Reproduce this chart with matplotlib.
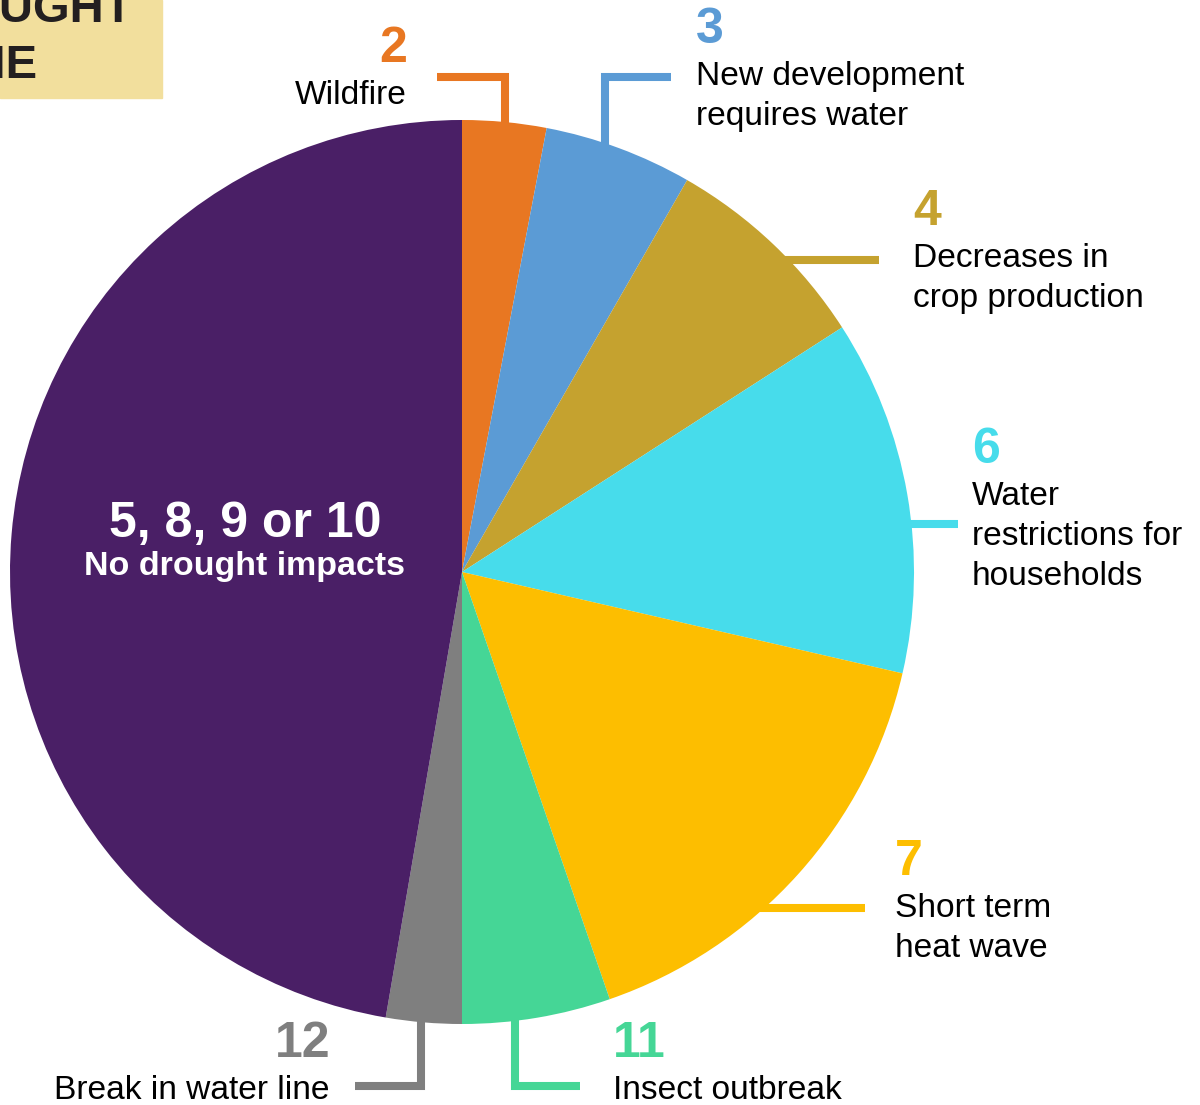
import matplotlib.pyplot as plt
from matplotlib.patches import Rectangle

plt.rcParams['font.family'] = ['Liberation Sans', 'DejaVu Sans']

# shares of answers, clockwise from 12 o'clock
impacts = ['Wildfire', 'New development\nrequires water', 'Decreases in\ncrop production',
           'Water\nrestrictions for\nhouseholds', 'Short term\nheat wave', 'Insect outbreak',
           'Break in water line', 'No drought impacts']
numbers = ['2', '3', '4', '6', '7', '11', '12', '5, 8, 9 or 10']
shares = [3.0, 5.3, 7.6, 12.7, 16.1, 5.3, 2.7, 47.3]
colors = ['#E87722', '#5B9BD5', '#C5A22F', '#47DCEB', '#FDBE00', '#45D696', '#7F7F7F', '#4A1F66']

fig = plt.figure(figsize=(12, 11.05), dpi=100)
ax = fig.add_axes([0, 0, 1, 1])

# y axis points down, so start at -90 and go "counterclock" to get clockwise from the top
ax.pie(shares, colors=colors, startangle=-90, counterclock=True,
       center=(462, 572), radius=452, wedgeprops=dict(linewidth=0))
ax.set_xlim(0, 1200)
ax.set_ylim(1105, 0)
ax.set_aspect('equal')
ax.axis('off')

# leader lines: (x points, y points, label x, number baseline, ha)
leaders = [
    ([437, 505, 505], [77, 77, 125], 407, 62, 'right'),
    ([605, 605, 671], [145, 77, 77], 696, 43, 'left'),
    ([780, 879], [260, 260], 913, 225, 'left'),
    ([900, 958], [524, 524], 972, 463, 'left'),
    ([760, 865], [908, 908], 895, 875, 'left'),
    ([515, 515, 580], [1015, 1086, 1086], 613, 1057, 'left'),
    ([421, 421, 355], [1015, 1086, 1086], 330, 1057, 'right'),
]

for i, (xs, ys, tx, ty, ha) in enumerate(leaders):
    ax.plot(xs, ys, color=colors[i], lw=5.8, solid_capstyle='butt',
            solid_joinstyle='miter', zorder=3)
    ax.text(tx, ty, numbers[i], color=colors[i], fontsize=36, fontweight='bold',
            ha=ha, va='baseline')
    for k, line in enumerate(impacts[i].split('\n')):
        ax.text(tx, ty + 42 + 40 * k, line, color='black', fontsize=24.1,
                ha=ha, va='baseline')

# big slice labelled inside
ax.text(245, 537, numbers[-1], color='white', fontsize=36, fontweight='bold',
        ha='center', va='baseline')
ax.text(245, 575, impacts[-1], color='white', fontsize=24.5, fontweight='bold',
        ha='center', va='baseline')

# title box, cut off at the edge like in the original
ax.add_patch(Rectangle((0, 0), 162, 98, color='#F2DF9D', zorder=0))
ax.text(133, 22, 'DROUGHT', color='#231F20', fontsize=34, fontweight='bold',
        ha='right', va='baseline')
ax.text(38, 78, 'PIE', color='#231F20', fontsize=34, fontweight='bold',
        ha='right', va='baseline')

plt.savefig('out.png', dpi=100)
